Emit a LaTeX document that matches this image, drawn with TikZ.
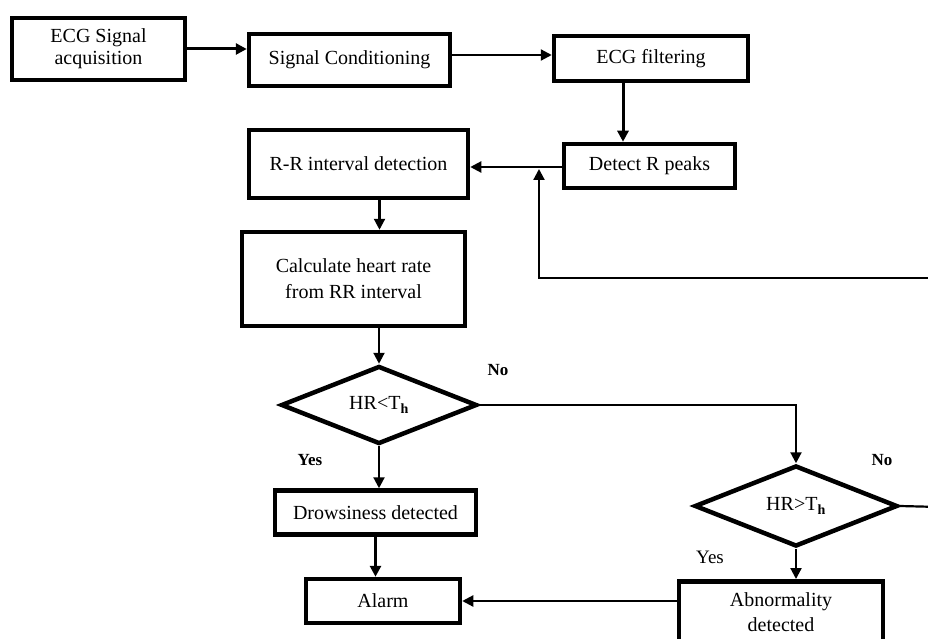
\documentclass[tikz,border=0pt]{standalone}
\usepackage{fontspec}
\setmainfont{Liberation Serif}
\usetikzlibrary{arrows.meta,shapes.geometric}
\tikzset{
  box/.style={draw, line width=4.5pt, rectangle, inner sep=0pt, align=center,
    font=\fontsize{20}{24}\selectfont},
  dec/.style={draw, line width=4.5pt, diamond, inner sep=0pt, align=center,
    font=\fontsize{20}{24}\selectfont},
  conn/.style={line width=2.2pt, -{Triangle[length=11pt,width=11pt]}},
  connthick/.style={line width=3pt, -{Triangle[length=11pt,width=11pt]}},
  plain/.style={line width=2.2pt},
  lab/.style={font=\fontsize{17}{20}\selectfont\bfseries, inner sep=0pt},
}
\begin{document}
\begin{tikzpicture}[x=1pt,y=-1pt]
\useasboundingbox (0,0) rectangle (928,639);
\clip (0,0) rectangle (928,639);
\fill[white] (0,0) rectangle (928,639);
% boxes
\node[box, minimum width=173pt, minimum height=62pt] (acq) at (98.5,49) {ECG Signal\\[-2pt]acquisition};
\node[box, minimum width=201pt, minimum height=52pt] (sc) at (349.5,60) {Signal Conditioning};
\node[box, minimum width=194pt, minimum height=45pt] (filt) at (651,58.5) {ECG filtering};
\node[box, minimum width=171pt, minimum height=44pt] (peaks) at (649.5,166) {Detect R peaks};
\node[box, minimum width=219pt, minimum height=68pt] (rr) at (358.5,164) {R-R interval detection};
\node[box, minimum width=223pt, minimum height=94pt] (calc) at (353.5,279) {Calculate heart rate\\[2pt]from RR interval};
\node[dec, minimum width=196pt, minimum height=78pt] (d1) at (379,405) {HR<T\textsubscript{\textbf{h}}};
\node[box, minimum width=201pt, minimum height=44pt] (drow) at (375.5,512.5) {Drowsiness detected};
\node[box, minimum width=154pt, minimum height=44pt] (alarm) at (383,601) {Alarm};
\node[dec, minimum width=203pt, minimum height=81pt] (d2) at (796,506) {HR>T\textsubscript{\textbf{h}}};
\node[box, minimum width=204pt, minimum height=80pt, anchor=north] (abn) at (781,579) {};
\node[font=\fontsize{20}{24}\selectfont, align=center] (abntext) at (781,612) {Abnormality\\[1pt]detected};
% labels
\node[lab] (no1) at (498,370) {No};
\node[lab] (yes1) at (310,460) {Yes};
\node[lab] (no2) at (882,460) {No};
\node[lab, font=\fontsize{19}{22}\selectfont] (yes2) at (710,557) {Yes};
% free ends
\coordinate (fbend) at (940,278);
\coordinate (fbjoin) at (539,169);
\coordinate (d2out) at (940,507);
% connectors
\draw[connthick] (acq.east) -- (acq.east -| sc.west);
\draw[conn] (sc.east |- 0,55) -- (filt.west |- 0,55);
\draw[connthick] ([xshift=-28pt]filt.south) -- ([xshift=-28pt]filt.south |- peaks.north);
\draw[conn] (peaks.west |- 0,167) -- (rr.east |- 0,167);
\draw[conn] (fbend) -| (fbjoin);
\draw[conn] ([xshift=21pt]rr.south) -- ([xshift=21pt]rr.south |- calc.north);
\draw[conn] (d1.north |- calc.south) -- (d1.north);
\draw[conn] (d1.east) -| (d2.north);
\draw[conn] (d1.south) -- (d1.south |- drow.north);
\draw[connthick] (drow.south) -- (drow.south |- alarm.north);
\draw[conn] (d2.south) -- (d2.south |- abn.north);
\draw[conn] (alarm.east -| abn.west) -- (alarm.east);
\draw[plain] (d2.east) -- (d2out);
\end{tikzpicture}
\end{document}
